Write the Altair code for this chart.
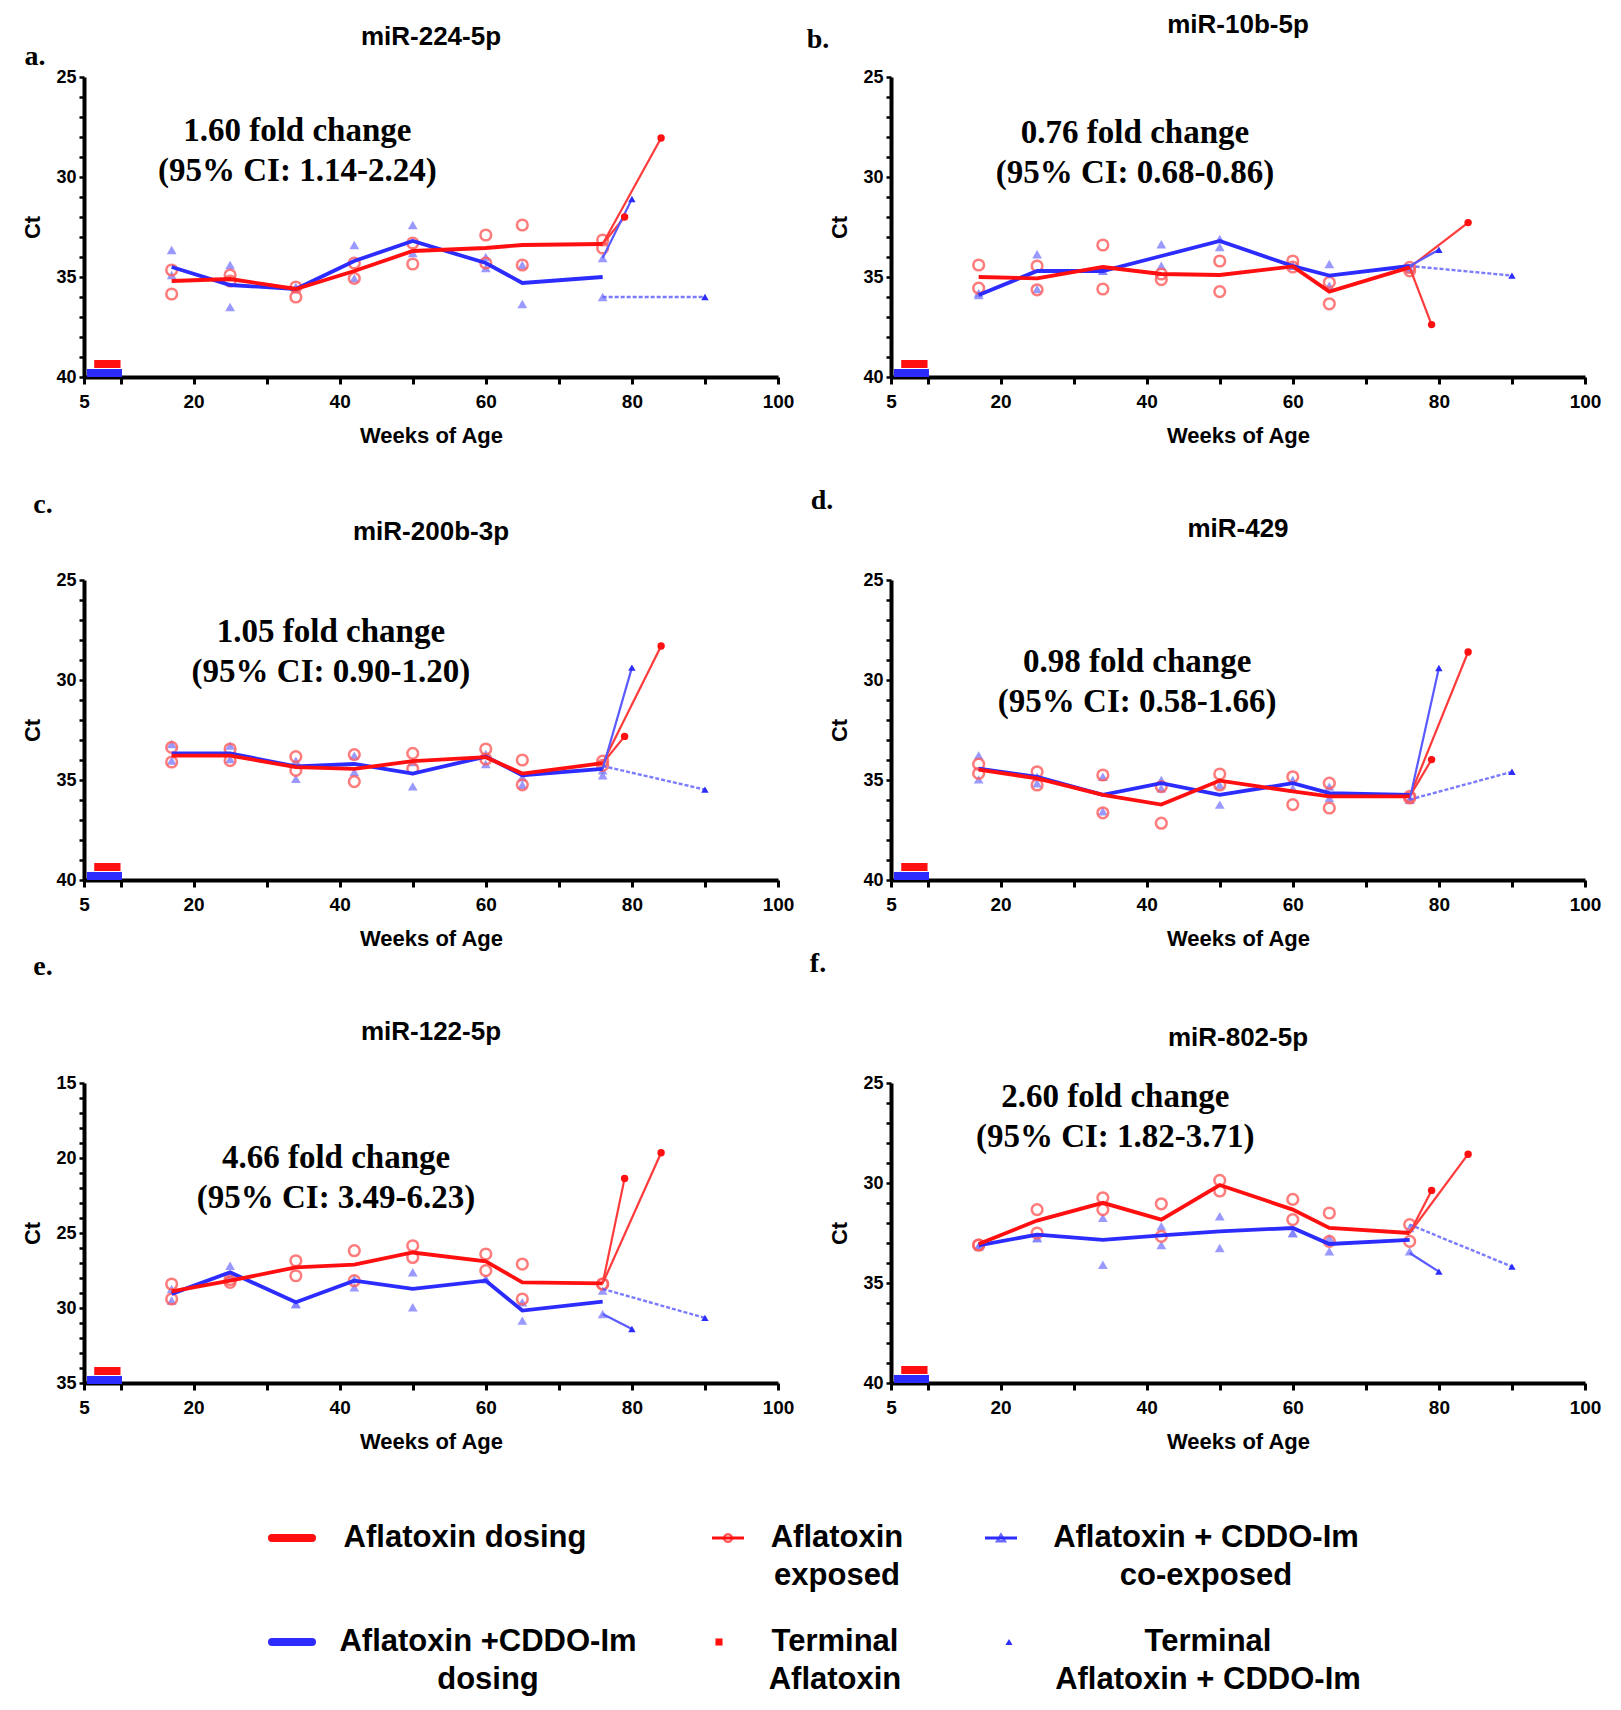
import altair as alt
import pandas as pd

# ---------------- data ----------------
WEEKS = [17, 25, 34, 42, 50, 60, 65, 76]
TITLES = ["miR-224-5p", "miR-10b-5p", "miR-200b-3p", "miR-429", "miR-122-5p", "miR-802-5p"]
LETTERS = ["a.", "b.", "c.", "d.", "e.", "f."]
FOLD_TEXT = [
    "1.60 fold change\n(95% CI: 1.14-2.24)",
    "0.76 fold change\n(95% CI: 0.68-0.86)",
    "1.05 fold change\n(95% CI: 0.90-1.20)",
    "0.98 fold change\n(95% CI: 0.58-1.66)",
    "4.66 fold change\n(95% CI: 3.49-6.23)",
    "2.60 fold change\n(95% CI: 1.82-3.71)",
]
FOLD_X = [34.2, 38.4, 38.8, 38.7, 39.5, 35.7]
FOLD_Y = [27.7, 27.8, 27.6, 29.1, 20.0, 25.7]
Y_LO = [25, 25, 25, 25, 15, 25]
Y_HI = [40, 40, 40, 40, 35, 40]
X_TICKS = [5, 10, 20, 30, 40, 50, 60, 70, 80, 90, 100]
X_LABELS = [5, 20, 40, 60, 80, 100]

DOSE_RED_X = [6.4, 10.0]
DOSE_BLUE_X = [5.4, 10.2]
DOSE_RED_Y = [39.35, 39.35, 39.35, 39.35, 34.2, 39.35]
DOSE_BLUE_Y = [39.8, 39.8, 39.8, 39.8, 34.8, 39.8]

TERM_RED_WEEKS = [79, 84]
TERM_BLUE_WEEKS = [80, 90]

# a. miR-224-5p
A_RED_MEAN = [35.2, 35.1, 35.6, 34.7, 33.7, 33.55, 33.4, 33.35]
A_BLUE_MEAN = [34.5, 35.4, 35.6, 34.2, 33.2, 34.3, 35.3, 35.0]
A_RED_P1 = [34.65, 34.9, 35.5, 34.3, 33.3, 32.9, 32.4, 33.15]
A_RED_P2 = [35.85, 35.2, 36.0, 35.07, 34.35, 34.3, 34.4, 33.55]
A_BLUE_P1 = [33.65, 34.4, 35.5, 33.4, 32.4, 34.0, 34.4, 34.05]
A_BLUE_P2 = [34.9, 36.5, 35.6, 35.07, 33.8, 34.55, 36.35, 36.0]
A_TERM_RED_FROM = 33.35
A_TERM_RED = [32.0, 28.05]
A_TERM_BLUE_FROM = [34.05, 36.0]
A_TERM_BLUE = [31.1, 36.0]

# b. miR-10b-5p
B_RED_MEAN = [35.0, 35.07, 34.5, 34.85, 34.9, 34.47, 35.73, 34.52]
B_BLUE_MEAN = [35.9, 34.7, 34.7, 33.95, 33.2, 34.45, 34.93, 34.45]
B_RED_P1 = [34.4, 34.45, 33.4, 34.85, 34.2, 34.2, 35.27, 34.52]
B_RED_P2 = [35.56, 35.64, 35.6, 35.13, 35.73, 34.5, 36.34, 34.69]
B_BLUE_P1 = [35.8, 33.86, 34.69, 33.36, 33.1, 34.44, 34.35, 34.6]
B_BLUE_P2 = [35.9, 35.6, 34.69, 34.44, 33.5, 34.44, 35.43, 34.6]
B_TERM_RED_FROM = 34.52
B_TERM_RED = [37.38, 32.28]
B_TERM_BLUE_FROM = [34.45, 34.45]
B_TERM_BLUE = [33.64, 34.93]

# c. miR-200b-3p
C_RED_MEAN = [33.78, 33.78, 34.36, 34.44, 34.06, 33.86, 34.68, 34.16]
C_BLUE_MEAN = [33.67, 33.67, 34.32, 34.2, 34.68, 33.83, 34.76, 34.44]
C_RED_P1 = [33.37, 33.45, 33.83, 33.73, 33.67, 33.45, 34.0, 34.06]
C_RED_P2 = [34.1, 34.03, 34.52, 35.08, 34.44, 33.95, 35.24, 34.27]
C_BLUE_P1 = [33.2, 33.28, 34.03, 33.78, 34.1, 33.7, 34.86, 34.52]
C_BLUE_P2 = [34.03, 33.95, 34.94, 34.6, 35.32, 34.2, 35.24, 34.76]
C_TERM_RED_FROM = 34.16
C_TERM_RED = [32.82, 28.3]
C_TERM_BLUE_FROM = [34.44, 34.3]
C_TERM_BLUE = [29.38, 35.48]

# d. miR-429
D_RED_MEAN = [34.48, 34.92, 35.74, 36.23, 35.03, 35.57, 35.82, 35.82]
D_BLUE_MEAN = [34.43, 34.84, 35.74, 35.16, 35.74, 35.16, 35.66, 35.74]
D_RED_P1 = [34.21, 34.59, 34.75, 35.33, 34.7, 34.84, 35.16, 35.82]
D_RED_P2 = [34.67, 35.25, 36.64, 37.16, 35.25, 36.23, 36.4, 35.9]
D_BLUE_P1 = [33.77, 34.84, 34.84, 35.0, 35.25, 35.0, 35.33, 35.98]
D_BLUE_P2 = [34.97, 35.16, 36.56, 35.41, 36.23, 35.41, 35.9, 35.98]
D_TERM_RED_FROM = 35.82
D_TERM_RED = [33.98, 28.6]
D_TERM_BLUE_FROM = [35.98, 35.98]
D_TERM_BLUE = [29.4, 34.59]

# e. miR-122-5p
E_RED_MEAN = [28.89, 28.18, 27.29, 27.11, 26.3, 26.89, 28.29, 28.36]
E_BLUE_MEAN = [29.06, 27.62, 29.62, 28.18, 28.73, 28.18, 30.17, 29.57]
E_RED_P1 = [28.4, 28.29, 26.85, 26.18, 25.85, 26.4, 27.07, 28.4]
E_RED_P2 = [29.4, 28.1, 27.85, 28.18, 26.63, 27.51, 29.4, 28.4]
E_BLUE_P1 = [28.73, 27.18, 29.73, 28.07, 27.62, 28.07, 29.62, 28.84]
E_BLUE_P2 = [29.5, 27.85, 29.73, 28.62, 29.95, 28.07, 30.84, 30.4]
E_TERM_RED_FROM = 28.36
E_TERM_RED = [21.36, 19.65]
E_TERM_BLUE_FROM = [30.4, 28.73]
E_TERM_BLUE = [31.4, 30.66]

# f. miR-802-5p
F_RED_MEAN = [33.05, 31.88, 30.99, 31.83, 30.1, 31.33, 32.25, 32.5]
F_BLUE_MEAN = [33.12, 32.58, 32.84, 32.62, 32.42, 32.25, 33.05, 32.84]
F_RED_P1 = [33.1, 31.33, 30.74, 31.04, 29.87, 30.82, 31.5, 32.08]
F_RED_P2 = [33.1, 32.5, 31.33, 32.67, 30.4, 31.83, 32.92, 32.92]
F_BLUE_P1 = [33.17, 32.75, 31.74, 32.16, 31.66, 32.5, 32.75, 32.25]
F_BLUE_P2 = [33.17, 32.75, 34.09, 33.1, 33.25, 32.5, 33.42, 33.42]
F_TERM_RED_FROM = 32.5
F_TERM_RED = [30.37, 28.56]
F_TERM_BLUE_FROM = [33.5, 32.08]
F_TERM_BLUE = [34.43, 34.18]

LEGEND_LABELS = [
    "Aflatoxin dosing", "Aflatoxin\nexposed", "Aflatoxin + CDDO-Im\nco-exposed",
    "Aflatoxin +CDDO-Im\ndosing", "Terminal\nAflatoxin", "Terminal\nAflatoxin + CDDO-Im",
]

PANELS = [
    dict(rm=A_RED_MEAN, bm=A_BLUE_MEAN, r1=A_RED_P1, r2=A_RED_P2, b1=A_BLUE_P1, b2=A_BLUE_P2,
         trf=A_TERM_RED_FROM, tr=A_TERM_RED, tbf=A_TERM_BLUE_FROM, tb=A_TERM_BLUE),
    dict(rm=B_RED_MEAN, bm=B_BLUE_MEAN, r1=B_RED_P1, r2=B_RED_P2, b1=B_BLUE_P1, b2=B_BLUE_P2,
         trf=B_TERM_RED_FROM, tr=B_TERM_RED, tbf=B_TERM_BLUE_FROM, tb=B_TERM_BLUE),
    dict(rm=C_RED_MEAN, bm=C_BLUE_MEAN, r1=C_RED_P1, r2=C_RED_P2, b1=C_BLUE_P1, b2=C_BLUE_P2,
         trf=C_TERM_RED_FROM, tr=C_TERM_RED, tbf=C_TERM_BLUE_FROM, tb=C_TERM_BLUE),
    dict(rm=D_RED_MEAN, bm=D_BLUE_MEAN, r1=D_RED_P1, r2=D_RED_P2, b1=D_BLUE_P1, b2=D_BLUE_P2,
         trf=D_TERM_RED_FROM, tr=D_TERM_RED, tbf=D_TERM_BLUE_FROM, tb=D_TERM_BLUE),
    dict(rm=E_RED_MEAN, bm=E_BLUE_MEAN, r1=E_RED_P1, r2=E_RED_P2, b1=E_BLUE_P1, b2=E_BLUE_P2,
         trf=E_TERM_RED_FROM, tr=E_TERM_RED, tbf=E_TERM_BLUE_FROM, tb=E_TERM_BLUE),
    dict(rm=F_RED_MEAN, bm=F_BLUE_MEAN, r1=F_RED_P1, r2=F_RED_P2, b1=F_BLUE_P1, b2=F_BLUE_P2,
         trf=F_TERM_RED_FROM, tr=F_TERM_RED, tbf=F_TERM_BLUE_FROM, tb=F_TERM_BLUE),
]

# ---------------- styling / layout ----------------
W, H = 694, 300
RED = "#ff0f0f"
BLUE = "#2c2cff"
RED_PT = "#ff5c5c"
BLUE_PT = "#7f7fff"
RED_TERM = "#ff3a3a"
BLUE_TERM = "#5a5aff"
SANS = "Liberation Sans"
SERIF = "Liberation Serif"

TITLE_DY = [-40, -52, -48, -51, -51, -45]
LETTER_DX = [-49, -73, -41, -69, -41, -73]
LETTER_DY = [-20, -37, -75, -79, -116, -119]

# legend placement (relative to panel e plot area)
LEG_SYM_X = [208, 644, 917, 208, 635, 925]
LEG_TEXT_X = [381, 753, 1122, 404, 751, 1124]
LEG_ROW_Y = [455, 455, 455, 559, 559, 559]
LEG_LH = 38
LEG_KIND = ["thick_red", "line_circle", "line_tri", "thick_blue", "square", "tri"]

ONE = pd.DataFrame({"k": [0]})


def encs(lo, hi):
    X = alt.X(
        "x:Q",
        scale=alt.Scale(domain=[5, 100], nice=False, zero=False),
        axis=alt.Axis(
            values=X_TICKS,
            labelExpr="indexof(%s, datum.value) >= 0 ? datum.label : ''" % str(X_LABELS),
            title="Weeks of Age", grid=False, tickSize=7, tickWidth=3, domainWidth=4,
            domainColor="black", tickColor="black", labelColor="black", titleColor="black",
            labelFont=SANS, labelFontSize=19, labelFontWeight="bold", labelPadding=8,
            titleFont=SANS, titleFontSize=22, titleFontWeight="bold", titlePadding=14,
            labelFlush=False, labelOverlap=False,
        ),
    )
    Y = alt.Y(
        "y:Q",
        scale=alt.Scale(domain=[lo, hi], reverse=True, nice=False, zero=False),
        axis=alt.Axis(
            values=list(range(lo, hi + 1)),
            labelExpr="datum.value % 5 == 0 ? datum.label : ''",
            title="Ct", grid=False, tickSize=5, tickWidth=2.5, domainWidth=4,
            domainColor="black", tickColor="black", labelColor="black", titleColor="black",
            labelFont=SANS, labelFontSize=18, labelFontWeight="bold", labelPadding=3,
            titleFont=SANS, titleFontSize=22, titleFontWeight="bold", titlePadding=11,
            labelOverlap=False,
        ),
    )
    return X, Y


def txt(text, x, y, font=SANS, size=31, color="black", weight="bold", align="center"):
    return alt.Chart(ONE).mark_text(
        font=font, fontSize=size, fontWeight=weight, color=color, align=align, baseline="middle"
    ).encode(x=alt.value(x), y=alt.value(y), text=alt.value(text))


def legend_layers():
    layers = []
    for i, label in enumerate(LEGEND_LABELS):
        sx, ty, kind = LEG_SYM_X[i], LEG_ROW_Y[i], LEG_KIND[i]
        if kind in ("thick_red", "thick_blue"):
            c = RED if kind == "thick_red" else BLUE
            layers.append(alt.Chart(ONE).mark_rule(color=c, strokeWidth=8, strokeCap="round").encode(
                x=alt.value(sx - 20), x2=alt.value(sx + 20), y=alt.value(ty)))
        elif kind in ("line_circle", "line_tri"):
            c = RED if kind == "line_circle" else BLUE
            layers.append(alt.Chart(ONE).mark_rule(color=c, strokeWidth=3).encode(
                x=alt.value(sx - 16), x2=alt.value(sx + 16), y=alt.value(ty)))
            shape = "circle" if kind == "line_circle" else "triangle-up"
            layers.append(alt.Chart(ONE).mark_point(
                shape=shape, filled=False, size=60, strokeWidth=2.5, color=c).encode(
                x=alt.value(sx), y=alt.value(ty)))
        else:
            c = RED if kind == "square" else BLUE
            shape = "square" if kind == "square" else "triangle-up"
            layers.append(alt.Chart(ONE).mark_point(
                shape=shape, filled=True, size=50, color=c, opacity=1).encode(
                x=alt.value(sx), y=alt.value(ty)))
        for j, line in enumerate(label.split("\n")):
            layers.append(txt(line, LEG_TEXT_X[i], ty + j * LEG_LH))
    return layers


def panel(i):
    p = PANELS[i]
    lo, hi = Y_LO[i], Y_HI[i]
    X, Y = encs(lo, hi)
    layers = []

    # dosing bars
    for xs, yv, c in ((DOSE_RED_X, DOSE_RED_Y[i], RED), (DOSE_BLUE_X, DOSE_BLUE_Y[i], BLUE)):
        df = pd.DataFrame({"x": xs, "y": [yv, yv]})
        layers.append(alt.Chart(df).mark_line(color=c, strokeWidth=8).encode(x=X, y=Y))

    # individual animals
    rp = pd.DataFrame({"x": WEEKS + WEEKS, "y": p["r1"] + p["r2"]})
    bp = pd.DataFrame({"x": WEEKS + WEEKS, "y": p["b1"] + p["b2"]})
    layers.append(alt.Chart(bp).mark_point(shape="triangle-up", filled=True, size=95,
                                            color=BLUE_PT, opacity=0.8).encode(x=X, y=Y))
    layers.append(alt.Chart(rp).mark_point(shape="circle", filled=False, size=115, strokeWidth=2.5,
                                            color=RED_PT, opacity=0.8).encode(x=X, y=Y))

    # terminal trajectories
    last = WEEKS[-1]
    tr_df = pd.DataFrame({
        "x": [last, TERM_RED_WEEKS[0], last, TERM_RED_WEEKS[1]],
        "y": [p["trf"], p["tr"][0], p["trf"], p["tr"][1]],
        "s": ["r0", "r0", "r1", "r1"],
    })
    layers.append(alt.Chart(tr_df).mark_line(color=RED_TERM, strokeWidth=2.2).encode(
        x=X, y=Y, detail="s:N"))
    tb_solid = pd.DataFrame({"x": [last, TERM_BLUE_WEEKS[0]], "y": [p["tbf"][0], p["tb"][0]]})
    tb_dash = pd.DataFrame({"x": [last, TERM_BLUE_WEEKS[1]], "y": [p["tbf"][1], p["tb"][1]]})
    layers.append(alt.Chart(tb_solid).mark_line(color=BLUE_TERM, strokeWidth=2.2).encode(x=X, y=Y))
    layers.append(alt.Chart(tb_dash).mark_line(color=BLUE_TERM, strokeWidth=2.4, opacity=0.8,
                                               strokeDash=[4, 2]).encode(x=X, y=Y))

    # group means
    layers.append(alt.Chart(pd.DataFrame({"x": WEEKS, "y": p["bm"]})).mark_line(
        color=BLUE, strokeWidth=3.8).encode(x=X, y=Y))
    layers.append(alt.Chart(pd.DataFrame({"x": WEEKS, "y": p["rm"]})).mark_line(
        color=RED, strokeWidth=3.8).encode(x=X, y=Y))

    # terminal points
    layers.append(alt.Chart(pd.DataFrame({"x": TERM_RED_WEEKS, "y": p["tr"]})).mark_point(
        shape="circle", filled=True, size=55, color=RED, opacity=1).encode(x=X, y=Y))
    layers.append(alt.Chart(pd.DataFrame({"x": TERM_BLUE_WEEKS, "y": p["tb"]})).mark_point(
        shape="triangle-up", filled=True, size=55, color=BLUE, opacity=1).encode(x=X, y=Y))

    # fold change annotation
    layers.append(alt.Chart(pd.DataFrame({"x": [FOLD_X[i]], "y": [FOLD_Y[i]], "t": [FOLD_TEXT[i]]}))
                  .mark_text(font=SERIF, fontWeight="bold", fontSize=33, lineBreak="\n",
                             lineHeight=40, align="center", baseline="middle", color="black")
                  .encode(x=X, y=Y, text="t:N"))

    # panel title and letter
    layers.append(txt(TITLES[i], W / 2, TITLE_DY[i], size=26))
    layers.append(txt(LETTERS[i], LETTER_DX[i], LETTER_DY[i], font=SERIF, size=28))

    if i == 4:
        layers.extend(legend_layers())

    return alt.layer(*layers).properties(width=W, height=H)


chart = alt.concat(
    *[panel(i) for i in range(6)],
    columns=2,
    spacing={"row": 203, "column": 113},
    bounds="flush",
).properties(
    padding={"left": 13, "top": 4, "right": 5, "bottom": 5},
    background="white",
).configure_view(stroke=None)

chart.save("out.html", embed_options={"renderer": "svg", "actions": False})
